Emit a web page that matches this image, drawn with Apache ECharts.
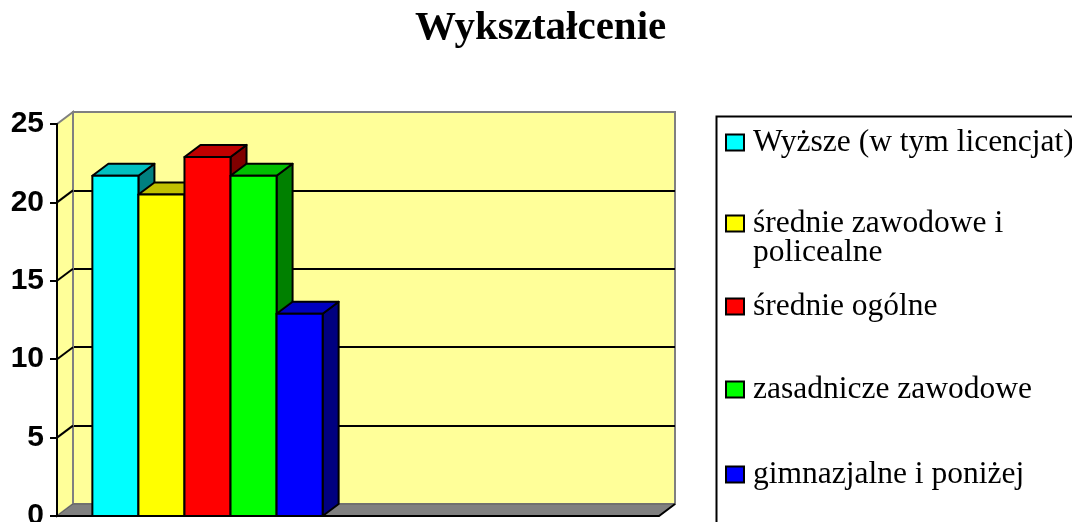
<!DOCTYPE html>
<html>
<head>
<meta charset="utf-8">
<script src="https://cdn.jsdelivr.net/npm/echarts@6/dist/echarts.min.js"></script>
<style>
html, body { margin: 0; padding: 0; background: #fff; }
#chart { width: 1072px; height: 522px; }
</style>
</head>
<body>
<div id="chart"></div>
<script>
// dane wykresu
const categories = ['', ''];
const seriesNames = [
	'Wyższe (w tym licencjat)',
	'średnie zawodowe i policealne',
	'średnie ogólne',
	'zasadnicze zawodowe',
	'gimnazjalne i poniżej'
];
const legendLabels = [
	'Wyższe (w tym licencjat)',
	'\nśrednie zawodowe i\npolicealne',
	'średnie ogólne',
	'zasadnicze zawodowe',
	'gimnazjalne i poniżej'
];
const values = [21.7, 20.5, 22.9, 21.7, 12.9];
const yTicks = [0, 5, 10, 15, 20, 25];

// kolory (przód / góra / bok)
const frontColors = ['#00ffff', '#ffff00', '#ff0000', '#00ff00', '#0000ff'];
const topColors = ['#00c0c0', '#c0c000', '#c00000', '#00c000', '#0000c0'];
const sideColors = ['#008080', '#808000', '#800000', '#008000', '#000080'];

// głębokość 3D
const DX = 16;
const DY = 12;
const BAR_RATIO = 0.153;

const legendTops = [126.5, 178.5, 290.5, 373.5, 458.5];

const chart = echarts.init(document.getElementById('chart'));

//ściany i podłoga
const renderWalls = (params, api) => {
	const cs = params.coordSys;
	const yMax = api.coord([0, yTicks[yTicks.length - 1]])[1];
	const y0 = api.coord([0, 0])[1];
	const xl = cs.x;
	const xr = cs.x + cs.width;
	const children = [];

	children.push({
		type: 'polygon',
		shape: { points: [[xl, yMax], [xl + DX, yMax - DY], [xl + DX, y0 - DY], [xl, y0]] },
		style: { fill: '#ffff99', stroke: '#808080', lineWidth: 2 }
	});

	yTicks.slice(1, -1).forEach(t => {
		const y = api.coord([0, t])[1];
		children.push({
			type: 'line',
			shape: { x1: xl, y1: y, x2: xl + DX, y2: y - DY },
			style: { stroke: '#000', lineWidth: 2 }
		});
	});

	children.push({
		type: 'polygon',
		shape: { points: [[xl, y0], [xl + DX, y0 - DY], [xr + DX, y0 - DY], [xr, y0]] },
		style: { fill: '#808080', stroke: '#606060', lineWidth: 1 }
	});
	children.push({
		type: 'polyline',
		shape: { points: [[xl, y0], [xr, y0], [xr + DX, y0 - DY]] },
		style: { fill: null, stroke: '#000', lineWidth: 2 }
	});

	return { type: 'group', children: children };
};

//słupki 3D
const makeBarRenderer = (idx) => (params, api) => {
	const band = api.size([1, 0])[0];
	const top = api.coord([api.value(0), api.value(1)]);
	const base = api.coord([api.value(0), 0]);
	const w = band * BAR_RATIO;
	const x0 = top[0] - w * seriesNames.length / 2 + idx * w;
	const x1 = x0 + w;
	const yt = top[1];
	const yb = base[1];
	const edge = { stroke: '#000', lineWidth: 2, lineJoin: 'round' };

	return {
		type: 'group',
		children: [
			{
				type: 'polygon',
				shape: { points: [[x1, yt], [x1 + DX, yt - DY], [x1 + DX, yb - DY], [x1, yb]] },
				style: Object.assign({ fill: sideColors[idx] }, edge)
			},
			{
				type: 'polygon',
				shape: { points: [[x0, yt], [x0 + DX, yt - DY], [x1 + DX, yt - DY], [x1, yt]] },
				style: Object.assign({ fill: topColors[idx] }, edge)
			},
			{
				type: 'rect',
				shape: { x: x0, y: yt, width: w, height: yb - yt },
				style: Object.assign({ fill: frontColors[idx] }, edge)
			}
		]
	};
};

const barSeries = seriesNames.map((name, i) => ({
	name: name,
	type: 'custom',
	xAxisIndex: 0,
	yAxisIndex: 0,
	z: 3 + i,
	itemStyle: { color: frontColors[i] },
	renderItem: makeBarRenderer(i),
	data: [[0, values[i]]]
}));

const legends = seriesNames.map((name, i) => ({
	data: [name],
	left: 725,
	top: legendTops[i],
	orient: 'vertical',
	padding: 0,
	icon: 'rect',
	itemWidth: 18,
	itemHeight: 16,
	selectedMode: false,
	itemStyle: { borderColor: '#000', borderWidth: 2 },
	formatter: () => legendLabels[i],
	textStyle: {
		fontFamily: 'Liberation Serif',
		fontSize: 31.5,
		lineHeight: 29,
		color: '#000',
		padding: [0, 0, 0, 4]
	}
}));

const option = {
	backgroundColor: '#fff',
	animation: false,
	title: {
		text: 'Wykształcenie',
		left: 410,
		top: 3,
		textStyle: {
			fontFamily: 'Liberation Serif',
			fontWeight: 'bold',
			fontSize: 41,
			color: '#000'
		}
	},
	legend: legends,
	grid: [
		{ left: 57, top: 124, width: 602, height: 392, outerBoundsMode: 'none', containLabel: false },
		{
			left: 57 + DX, top: 124 - DY, width: 602, height: 392,
			outerBoundsMode: 'none', containLabel: false,
			show: true, backgroundColor: '#ffff99', borderColor: '#808080', borderWidth: 2
		}
	],
	xAxis: [
		{
			type: 'category', gridIndex: 0, data: categories,
			axisLine: { show: false }, axisTick: { show: false }, axisLabel: { show: false }
		},
		{ type: 'category', gridIndex: 1, data: categories, show: false }
	],
	yAxis: [
		{
			type: 'value', gridIndex: 0, min: 0, max: 25, interval: 5, z: 10,
			axisLine: { show: true, lineStyle: { color: '#000', width: 2 } },
			axisTick: { show: true, length: 7, lineStyle: { color: '#000', width: 2 } },
			axisLabel: {
				margin: 13,
				fontFamily: 'Liberation Sans',
				fontWeight: 'bold',
				fontSize: 30,
				color: '#000'
			},
			splitLine: { show: false }
		},
		{
			type: 'value', gridIndex: 1, min: 0, max: 25, interval: 5,
			axisLine: { show: false }, axisTick: { show: false }, axisLabel: { show: false },
			splitLine: { show: true, showMinLine: false, showMaxLine: false, lineStyle: { color: '#000', width: 2 } }
		}
	],
	graphic: [
		{
			type: 'rect',
			left: 714,
			top: 114,
			shape: { width: 500, height: 500 },
			style: { fill: null, stroke: '#000', lineWidth: 2 }
		}
	],
	series: [
		{
			name: 'walls',
			type: 'custom',
			xAxisIndex: 0,
			yAxisIndex: 0,
			z: 2,
			silent: true,
			renderItem: renderWalls,
			data: [[0, 0]]
		}
	].concat(barSeries)
};

chart.setOption(option);
</script>
</body>
</html>
